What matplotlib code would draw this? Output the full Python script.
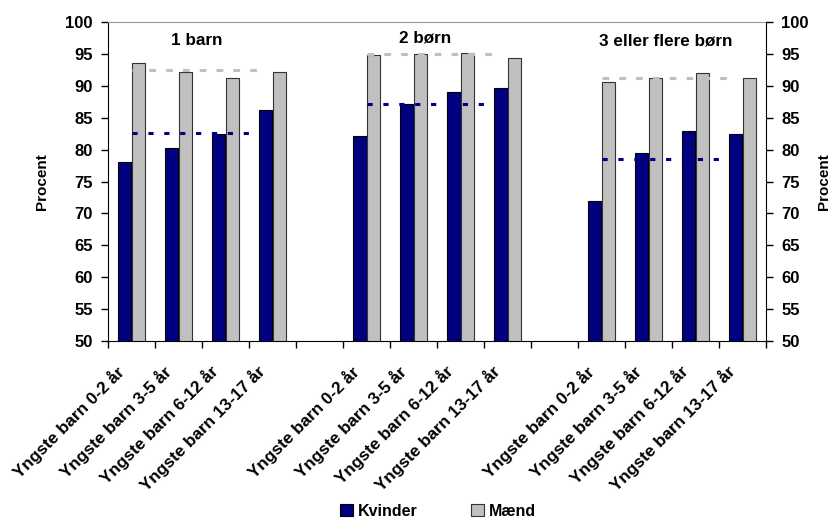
import numpy as np
import matplotlib.pyplot as plt
import matplotlib.transforms as mtransforms
from matplotlib.patches import Patch

plt.rcParams["font.family"] = ["Liberation Sans", "DejaVu Sans"]
plt.rcParams["font.weight"] = "bold"

# data
groups = ["1 barn", "2 børn", "3 eller flere børn"]
ages = ["Yngste barn 0-2 år", "Yngste barn 3-5 år", "Yngste barn 6-12 år", "Yngste barn 13-17 år"]
kvinder = [[78.1, 80.3, 82.4, 86.2],
           [82.1, 87.1, 89.1, 89.7],
           [71.9, 79.5, 82.9, 82.5]]
maend = [[93.5, 92.2, 91.2, 92.1],
         [94.8, 95.0, 95.1, 94.4],
         [90.6, 91.2, 92.0, 91.2]]
avg_kvinder = [82.6, 87.1, 78.5]
avg_maend = [92.5, 95.0, 91.3]

BLUE = "#000080"
GREY = "#C0C0C0"

fig = plt.figure(figsize=(8.31, 5.18), dpi=100)
ax = fig.add_axes([108 / 831, 1 - 341 / 518, 658 / 831, 319 / 518])

n_cat = len(groups) * (len(ages) + 1) - 1
bw = 0.283
centers, labels = [], []
for g in range(len(groups)):
    start = g * (len(ages) + 1)
    x = start + np.arange(len(ages)) + 0.5
    ax.bar(x - bw / 2, kvinder[g], bw, bottom=0, color=BLUE, edgecolor="black", lw=0.8, zorder=2)
    ax.bar(x + bw / 2, maend[g], bw, bottom=0, color=GREY, edgecolor="#333333", lw=0.8, zorder=2)
    ax.hlines(avg_maend[g], start + 0.5, start + 3.3, colors=GREY, lw=2.2,
              linestyles=(0, (2.2, 3.3)), zorder=3)
    ax.hlines(avg_kvinder[g], start + 0.5, start + 3.0, colors=BLUE, lw=2.2,
              linestyles=(0, (1.7, 3.5)), zorder=3)
    centers.extend(x)
    labels.extend(ages)

ax.text(1.89, 97.1, groups[0], ha="center", va="center", fontsize=12.3, fontweight="bold")
ax.text(6.74, 97.5, groups[1], ha="center", va="center", fontsize=12.3, fontweight="bold")
ax.text(11.87, 97.1, groups[2], ha="center", va="center", fontsize=12.3, fontweight="bold")

ax.set_xlim(0, n_cat)
ax.set_ylim(50, 100)
ax.set_yticks(np.arange(50, 101, 5))
ax.tick_params(axis="y", labelsize=12, length=5, width=1, direction="out", pad=6)
ax.set_xticks(np.arange(0, n_cat + 1))
ax.set_xticklabels([])
ax.tick_params(axis="x", which="major", length=5, width=1, direction="out")
for lab in ax.get_yticklabels():
    lab.set_fontweight("bold")
ax.set_ylabel("Procent", fontsize=11, fontweight="bold", labelpad=12)

# category labels, rotated 45 deg, ending just below-left of each category centre
offset = mtransforms.ScaledTranslation(-10 / 100, -28 / 100, fig.dpi_scale_trans)
for xc, lab in zip(centers, labels):
    ax.text(xc, 0, lab, transform=ax.get_xaxis_transform() + offset, rotation=45,
            ha="right", va="center", rotation_mode="anchor", fontsize=12.3, fontweight="bold")

ax.spines["top"].set_color("#999999")
ax.spines["right"].set_visible(False)

ax2 = ax.twinx()
ax2.set_ylim(50, 100)
ax2.set_yticks(np.arange(50, 101, 5))
ax2.tick_params(axis="y", labelsize=12, length=5, width=1, direction="out", pad=6)
for lab in ax2.get_yticklabels():
    lab.set_fontweight("bold")
ax2.set_ylabel("Procent", fontsize=11, fontweight="bold", labelpad=6, rotation=90)
for s in ["top", "left", "bottom"]:
    ax2.spines[s].set_visible(False)

handles = [Patch(facecolor=BLUE, edgecolor="black", lw=0.8, label="Kvinder"),
           Patch(facecolor=GREY, edgecolor="#333333", lw=0.8, label="Mænd")]
fig.legend(handles=handles, loc="center", bbox_to_anchor=(438 / 831, 1 - 511 / 518), ncol=2,
           frameon=False, prop={"size": 11.5, "weight": "bold"}, handlelength=0.8, handleheight=0.8,
           handletextpad=0.3, columnspacing=3.4)

fig.savefig("out.png", dpi=100)
